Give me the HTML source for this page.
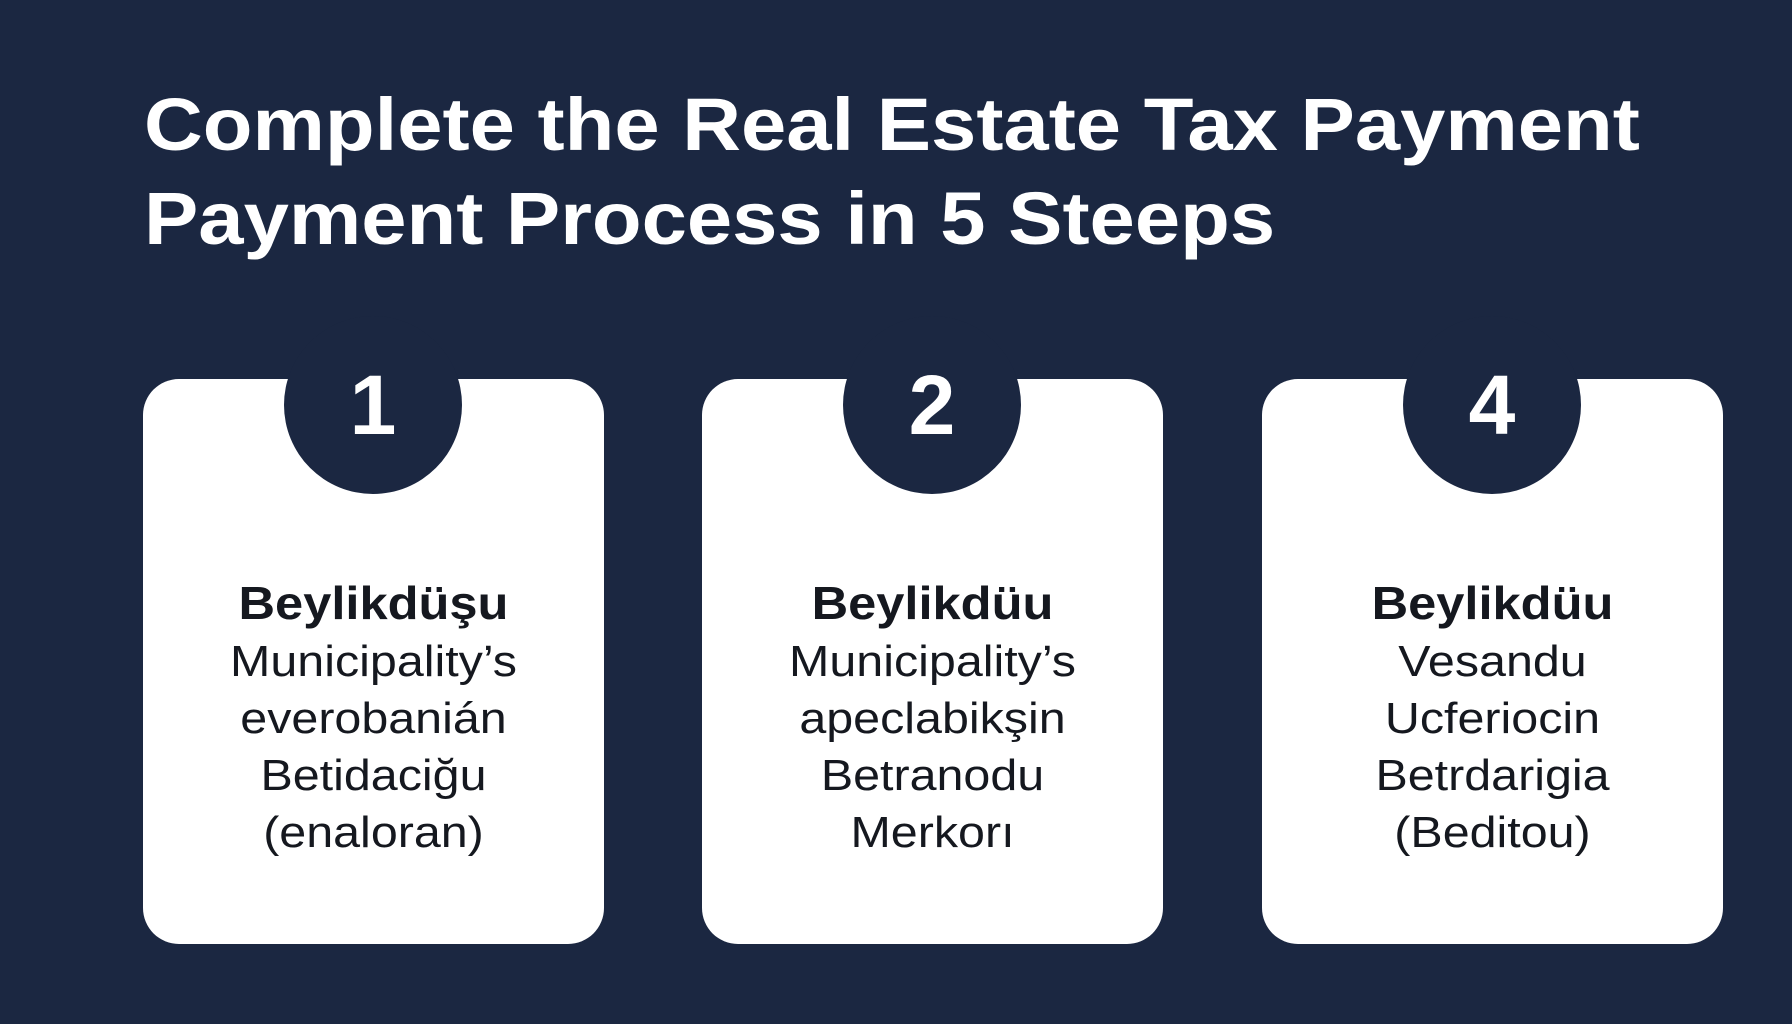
<!DOCTYPE html>
<html><head><style>
body{margin:0;width:1792px;height:1024px;background:#1b2741;font-family:"Liberation Sans",sans-serif;overflow:hidden;position:relative}
h1{position:absolute;left:144px;top:78px;margin:0;color:#fff;font-size:74px;line-height:94px;font-weight:bold;transform:scaleX(1.1);transform-origin:left top;white-space:nowrap}
.card{position:absolute;top:379px;width:461px;height:565px;background:#fff;border-radius:36px;overflow:hidden}
.circ{position:absolute;top:316px;width:178px;height:178px;border-radius:50%;background:#1b2741;color:#fff;font-size:84px;font-weight:bold;text-align:center;line-height:178px}
.txt{position:absolute;text-align:center;color:#15181f;font-size:44px;line-height:57px;transform:scaleX(1.1)}
.txt b{font-size:46px}
</style></head><body>
<h1>Complete the Real Estate Tax Payment<br>Payment Process in 5 Steeps</h1>
<div class="card" style="left:143px"></div>
<div class="card" style="left:702px"></div>
<div class="card" style="left:1262px"></div>
<div class="circ" style="left:284px">1</div>
<div class="circ" style="left:843px">2</div>
<div class="circ" style="left:1403px">4</div>
<div class="txt" style="left:143px;width:461px;top:575px"><b>Beylikdüşu</b><br>Municipality’s<br>everobanián<br>Betidaciğu<br>(enaloran)</div>
<div class="txt" style="left:702px;width:461px;top:575px"><b>Beylikdüu</b><br>Municipality’s<br>apeclabikşin<br>Betranodu<br>Merkorı</div>
<div class="txt" style="left:1262px;width:461px;top:575px"><b>Beylikdüu</b><br>Vesandu<br>Ucferiocin<br>Betrdarigia<br>(Beditou)</div>
</body></html>
